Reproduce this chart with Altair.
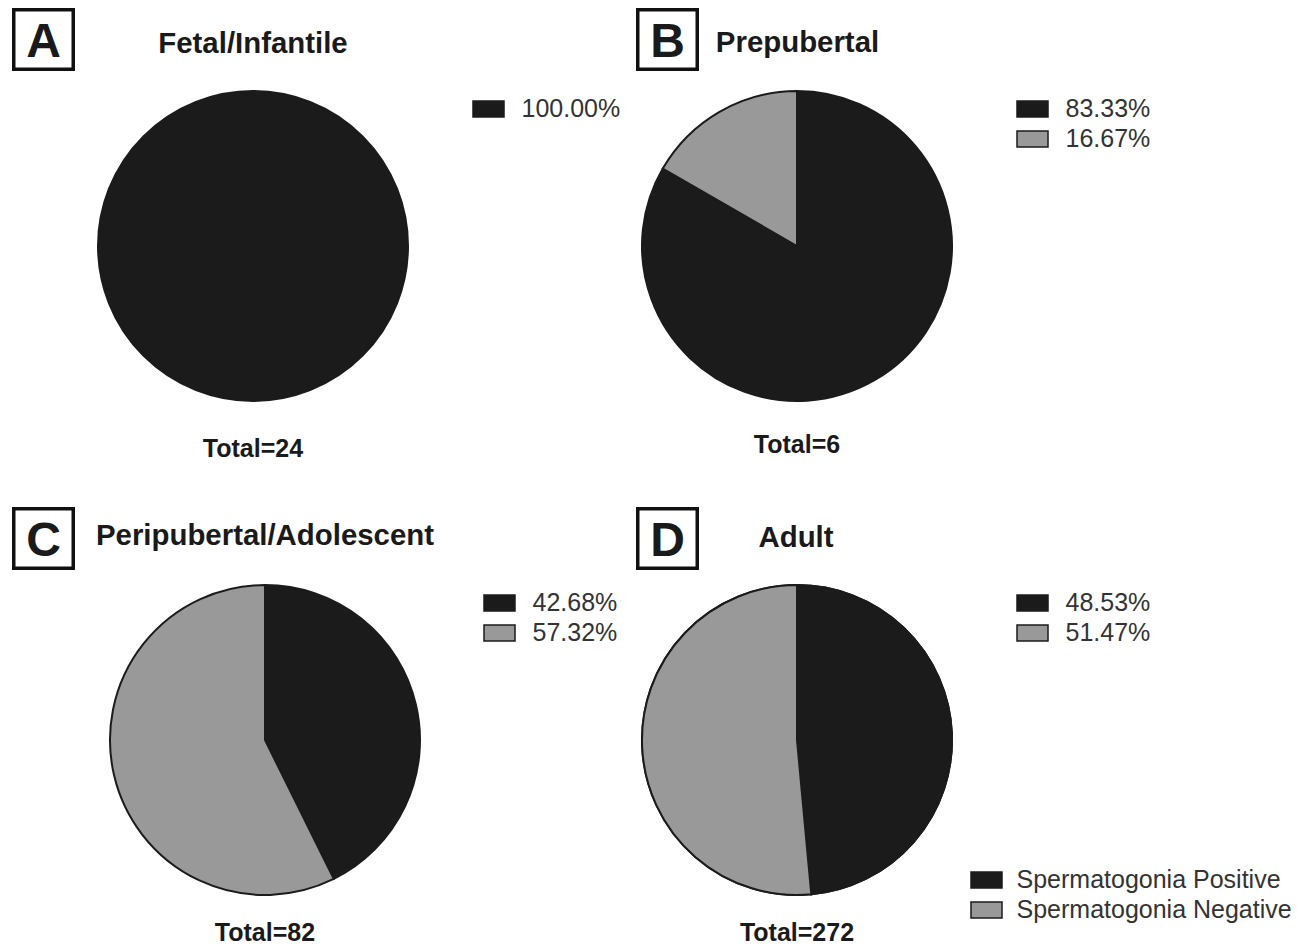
import altair as alt
import pandas as pd

DARK = "#1b1b1b"
GRAY = "#999999"
TEXT = "#1a1a1a"
LABEL = "#333333"
FONT = "Liberation Sans"

letters = ["A", "B", "C", "D"]
titles = ["Fetal/Infantile", "Prepubertal", "Peripubertal/Adolescent", "Adult"]
positive = [24, 5, 35, 132]
negative = [0, 1, 47, 140]
status_names = ["Spermatogonia Positive", "Spermatogonia Negative"]
status_colors = [DARK, GRAY]

RECT_PATH = "M-1,-0.516H1V0.516H-1Z"


def one(s):
    return alt.Chart(pd.DataFrame({"t": [s]}))


def txt(s, x, y, size, bold=True, color=TEXT):
    return one(s).mark_text(
        font=FONT, fontSize=size, fontWeight="bold" if bold else "normal",
        color=color, align="center", baseline="alphabetic"
    ).encode(text="t:N", x=alt.value(x), y=alt.value(y))


def box(x1, x2, y1, y2):
    return one("").mark_rect(
        fillOpacity=0, stroke="#111111", strokeWidth=3.5
    ).encode(x=alt.value(x1), x2=alt.value(x2), y=alt.value(y1), y2=alt.value(y2))


def panel(i, w, h, box_x, box_y, letter_y, title_x, title_y, total_x, total_y,
          leg_x, leg_y, with_status=False):
    total = positive[i] + negative[i]
    rows = []
    for k, cnt in enumerate([positive[i], negative[i]]):
        if cnt > 0:
            rows.append({
                "status": status_names[k],
                "count": cnt,
                "pct": f"{100 * cnt / total:.2f}%",
                "order": k,
                "col": status_colors[k],
            })
    df = pd.DataFrame(rows)
    pcts = list(df["pct"])
    cols = list(df["col"])

    legend = alt.Legend(
        title=None, orient="none", legendX=leg_x, legendY=leg_y,
        symbolType=RECT_PATH, symbolSize=961, symbolStrokeColor=DARK,
        symbolStrokeWidth=1.5, symbolOpacity=1, labelFont=FONT,
        labelFontSize=25, labelColor=LABEL, labelOffset=16.5,
        rowPadding=-1, padding=0,
    )
    arc = alt.Chart(df).mark_arc(outerRadius=155, stroke=DARK, strokeWidth=2).encode(
        theta=alt.Theta("count:Q", stack=True),
        order=alt.Order("order:Q"),
        color=alt.Color("pct:N", scale=alt.Scale(domain=pcts, range=cols),
                        sort=pcts, legend=legend),
    )
    layers = []
    if with_status:
        status_arc = alt.Chart(df).mark_arc(outerRadius=155, stroke=DARK, strokeWidth=2).encode(
            theta=alt.Theta("count:Q", stack=True),
            order=alt.Order("order:Q"),
            fill=alt.Fill("status:N",
                          scale=alt.Scale(domain=status_names, range=status_colors),
                          sort=status_names,
                          legend=alt.Legend(
                              title=None, orient="none", legendX=418, legendY=320.5,
                              symbolType=RECT_PATH, symbolSize=961,
                              symbolStrokeColor=DARK, symbolStrokeWidth=1.5,
                              symbolOpacity=1, labelFont=FONT, labelFontSize=25,
                              labelColor=LABEL, labelOffset=13.5, rowPadding=-1,
                              padding=0, labelLimit=400,
                          )),
        )
        layers.append(status_arc)
    layers.append(arc)
    layers += [
        box(box_x, box_x + 59.5, box_y, box_y + 59.5),
        txt(letters[i], box_x + 29.75, letter_y, 48),
        txt(titles[i], title_x, title_y, 29.4),
        txt(f"Total={total}", total_x, total_y, 25),
    ]
    return alt.layer(*layers).resolve_scale(color="independent", fill="independent").properties(
        width=w, height=h
    )


pA = panel(0, 490, 476, 5.75, 1.75, 49, 245, 45, 245, 449, 464, 84.5)
pB = panel(1, 490, 476, 85.75, 1.75, 49, 245.5, 44, 245, 445, 464, 84.5)
pC = panel(2, 514, 394, 5.75, -34.25, 13, 257, 2, 257, 398, 475, 43.5)
pD = panel(3, 490, 394, 85.75, -34.25, 13, 244, 4, 245, 398, 464, 43.5, with_status=True)

chart = alt.concat(
    pA, pB, pC, pD, columns=2, bounds="flush",
    spacing={"row": 59, "column": 30},
).properties(
    padding=0, background="white"
).configure_view(strokeWidth=0).resolve_scale(color="independent", fill="independent")

chart.save("out.html", embed_options={"renderer": "svg", "actions": False})
